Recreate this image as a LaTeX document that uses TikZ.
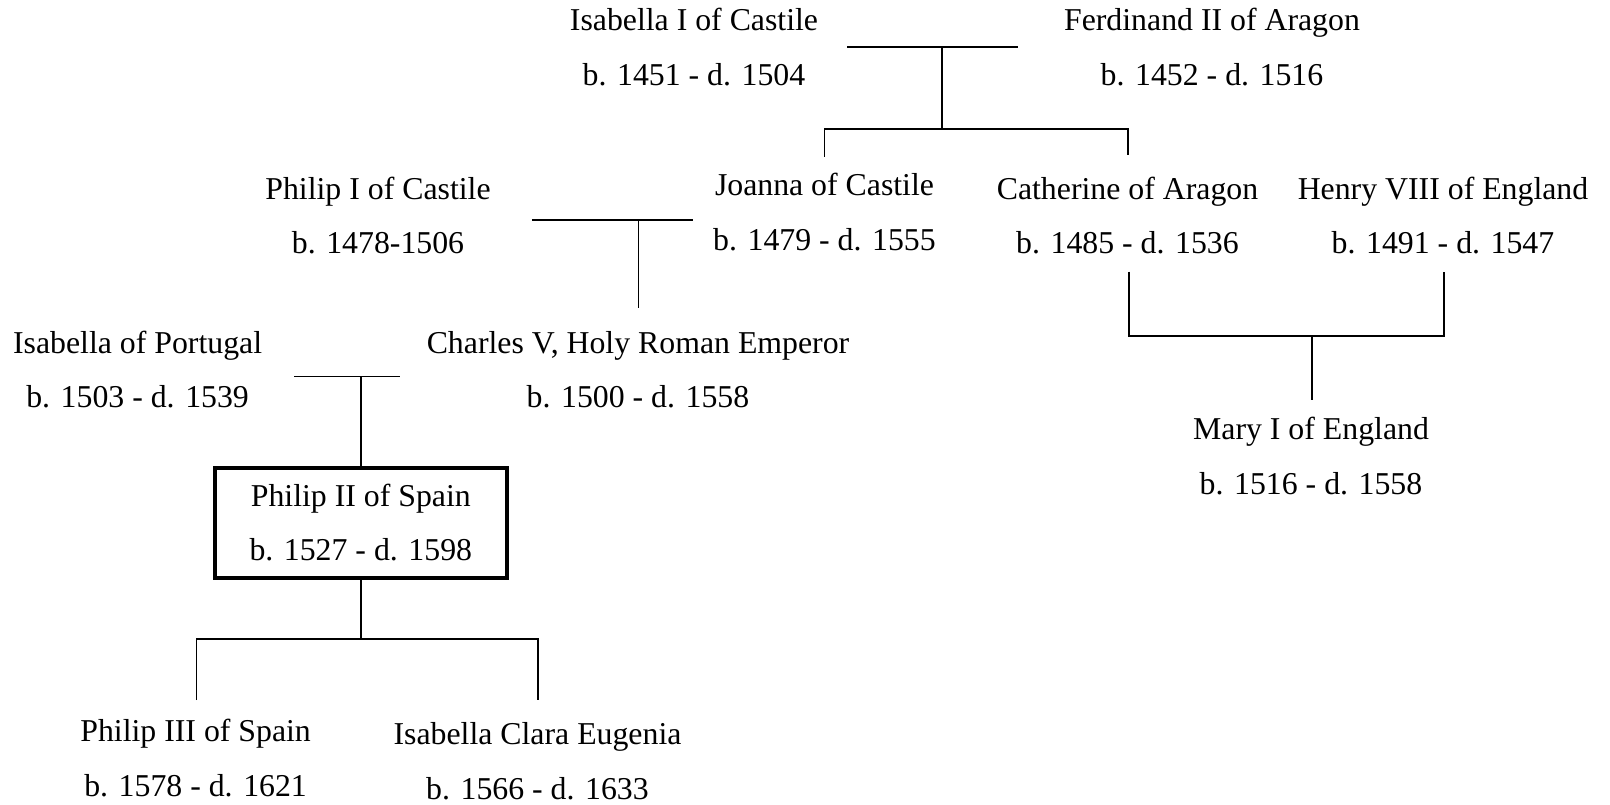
\documentclass[tikz,border=0pt]{standalone}
\usepackage{fontspec}
\setmainfont{Liberation Serif}
\begin{document}
\begin{tikzpicture}[x=0.5pt,y=-0.5pt,
  person/.style={align=center,inner sep=0pt,outer sep=0pt,font=\fontsize{15.9}{27.2}\selectfont},
  mainbox/.style={person,draw,line width=1.75pt,minimum width=146pt,minimum height=55pt},
  link/.style={line width=0.9pt}]
\useasboundingbox (0,0) rectangle (1610,804);
% people
\node[person] (isab1) at (694,47) {\strut Isabella I of Castile\\\strut b. 1451 - d. 1504};
\node[person] (ferd) at (1212,47) {\strut Ferdinand II of Aragon\\\strut b. 1452 - d. 1516};
\node[person] (joanna) at (824.5,212.3) {\strut Joanna of Castile\\\strut b. 1479 - d. 1555};
\node[person] (cath) at (1127.5,215.6) {\strut Catherine of Aragon\\\strut b. 1485 - d. 1536};
\node[person] (henry) at (1443,215.6) {\strut Henry VIII of England\\\strut b. 1491 - d. 1547};
\node[person] (philip1) at (378,215.6) {\strut Philip I of Castile\\\strut b. 1478-1506};
\node[person] (charles) at (638,369.6) {\strut Charles V, Holy Roman Emperor\\\strut b. 1500 - d. 1558};
\node[person] (isabp) at (137.6,369.6) {\strut Isabella of Portugal\\\strut b. 1503 - d. 1539};
\node[mainbox] (philip2) at (360.8,522.8) {\strut Philip II of Spain\\\strut b. 1527 - d. 1598};
\node[person] (philip3) at (195.6,758) {\strut Philip III of Spain\\\strut b. 1578 - d. 1621};
\node[person] (isabce) at (537.5,761.3) {\strut Isabella Clara Eugenia\\\strut b. 1566 - d. 1633};
\node[person] (mary) at (1311,456.3) {\strut Mary I of England\\\strut b. 1516 - d. 1558};
% Isabella I + Ferdinand II
\coordinate (m1l) at (847.4,46.7);
\coordinate (m1r) at (1017.9,46.7);
\coordinate (m1) at (941.8,46.7);
\coordinate (c1) at (941.8,129.3);
\coordinate (j1) at (824.5,156.5);
\coordinate (k1) at (1128,155);
\draw[link] (m1l) -- (m1r);
\draw[link] (m1) -- (c1);
\draw[link] (j1) |- (c1) -| (k1);
% Philip I + Joanna
\coordinate (m2l) at (531.9,220);
\coordinate (m2r) at (693.1,220);
\coordinate (m2) at (638.4,220);
\coordinate (c2) at (638.4,308.3);
\draw[link] (m2l) -- (m2r);
\draw[link] (m2) -- (c2);
% Isabella of Portugal + Charles V
\coordinate (m3l) at (294,376.5);
\coordinate (m3r) at (400,376.5);
\coordinate (m3) at (360.8,376.5);
\draw[link] (m3l) -- (m3r);
\draw[link] (m3) -- (philip2.north);
% Philip II children
\coordinate (c4) at (360.8,639.3);
\coordinate (p3) at (196.4,700);
\coordinate (ice) at (537.9,700);
\draw[link] (philip2.south) -- (c4);
\draw[link] (p3) |- (c4) -| (ice);
% Catherine + Henry
\coordinate (ct) at (1128.9,271.7);
\coordinate (ht) at (1443.7,271.7);
\coordinate (m5) at (1312,335.7);
\coordinate (c5) at (1312,400);
\draw[link] (ct) |- (m5) -| (ht);
\draw[link] (m5) -- (c5);
\end{tikzpicture}
\end{document}
